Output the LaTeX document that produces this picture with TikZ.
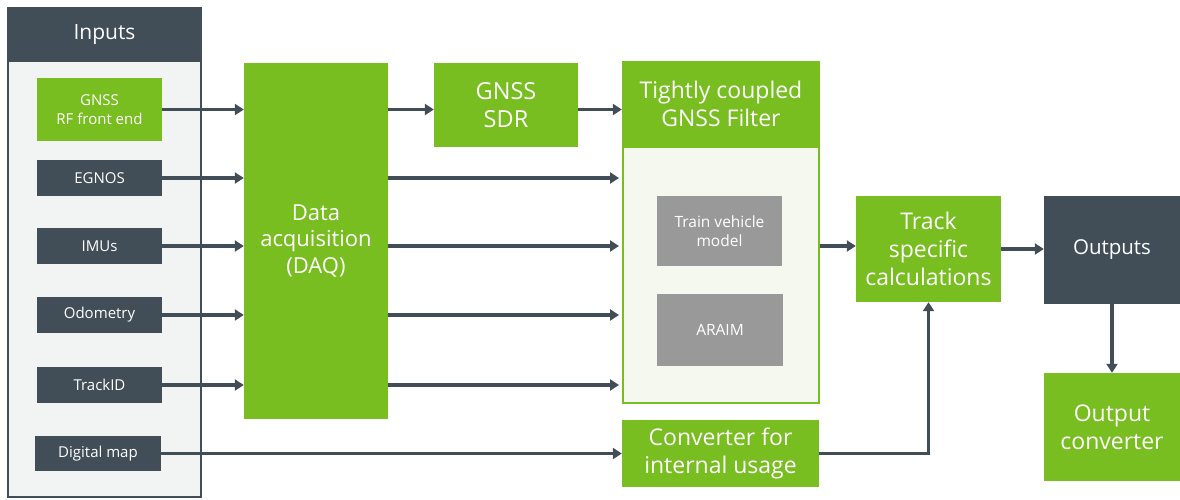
\documentclass[tikz,border=0pt]{standalone}
\usepackage{fontspec}
\setmainfont{Open Sans}
\usetikzlibrary{arrows.meta}
\definecolor{leaf}{HTML}{78BE20}
\definecolor{slate}{HTML}{414D57}
\definecolor{panel}{HTML}{F2F3F3}
\definecolor{filterbg}{HTML}{F4F8EE}
\definecolor{block}{HTML}{999999}
\tikzset{
  box/.style={inner sep=0pt, align=center, text=white, font=\fontsize{#1}{1.22\dimexpr#1pt\relax}\selectfont},
  greenbox/.style={box=#1, fill=leaf},
  darkbox/.style={box=#1, fill=slate},
  greybox/.style={box=#1, fill=block},
  flow/.style={draw=slate, line width=3.6pt, -{Triangle[length=9pt,width=11pt]}},
}
\begin{document}
\begin{tikzpicture}[x=1pt,y=-1pt]
\useasboundingbox (0,0) rectangle (1180,499);
\fill[white] (0,0) rectangle (1180,499);

% Inputs panel
\draw[slate, line width=2pt, fill=panel] (8,8) rectangle (201,497);
\fill[slate] (7,7) rectangle (202,62);
\node[text=white, font=\fontsize{21}{24}\selectfont] (inputs) at (104.5,34.5) {Inputs};

\node[greenbox=15, minimum width=125, minimum height=63] (rf) at (99.5,109.5) {GNSS\\RF front end};
\node[darkbox=15, minimum width=125, minimum height=36] (egnos) at (99.5,178) {EGNOS};
\node[darkbox=15, minimum width=125, minimum height=36] (imu) at (99.5,246) {IMUs};
\node[darkbox=15, minimum width=125, minimum height=36] (odo) at (99.5,315) {Odometry};
\node[darkbox=15, minimum width=125, minimum height=36] (trk) at (99.5,385) {TrackID};
\node[darkbox=15, minimum width=126, minimum height=35] (map) at (98,453.5) {Digital map};

% Processing chain
\node[greenbox=22, minimum width=144, minimum height=356] (daq) at (316,241) {Data\\acquisition\\(DAQ)};
\node[greenbox=23.5, minimum width=144, minimum height=84] (sdr) at (506,105) {GNSS\\SDR};

\node[draw=leaf, line width=2pt, fill=filterbg, minimum width=196, minimum height=256, inner sep=0pt] (fb) at (721,275) {};
\node[greenbox=23, minimum width=198, minimum height=85] (fh) at (721,103.5) {Tightly coupled\\GNSS Filter};
\node[greybox=15.5, minimum width=125, minimum height=70] (tvm) at (719.5,231) {Train vehicle\\model};
\node[greybox=15.5, minimum width=126, minimum height=72] (araim) at (720,330) {ARAIM};

\node[greenbox=23, minimum width=197, minimum height=67] (conv) at (720.5,453.5) {Converter for\\internal usage};
\node[greenbox=23, minimum width=145, minimum height=106] (calc) at (928.5,249) {Track\\specific\\calculations};
\node[darkbox=20.5, minimum width=136, minimum height=108] (out) at (1112,250) {Outputs};
\node[greenbox=23, minimum width=136, minimum height=108] (oconv) at (1112,427) {Output\\converter};

% Input connections
\draw[flow] (rf.east) -- (daq.west |- rf.east);
\draw[flow] (egnos.east) -- (daq.west |- egnos.east);
\draw[flow] (imu.east) -- (daq.west |- imu.east);
\draw[flow] (odo.east) -- (daq.west |- odo.east);
\draw[flow] (trk.east) -- (daq.west |- trk.east);
\draw[flow] (map.east) -- (conv.west |- map.east);

% DAQ to SDR and filter
\draw[flow] (daq.east |- rf.east) -- (sdr.west |- rf.east);
\draw[flow] (sdr.east |- rf.east) -- (fh.west |- rf.east);
\draw[flow, shorten >=3pt] (daq.east |- egnos.east) -- (fb.west |- egnos.east);
\draw[flow, shorten >=3pt] (daq.east |- imu.east) -- (fb.west |- imu.east);
\draw[flow, shorten >=3pt] (daq.east |- odo.east) -- (fb.west |- odo.east);
\draw[flow, shorten >=3pt] (daq.east |- trk.east) -- (fb.west |- trk.east);

% Filter and converter to track calculations
\draw[flow] (fb.east |- imu.east) -- (calc.west |- imu.east);
\draw[flow] (conv.east) -| (calc.south);

% Outputs
\draw[flow] (calc.east) -- (out.west |- calc.east);
\draw[flow] (out.south) -- (oconv.north);
\end{tikzpicture}
\end{document}
